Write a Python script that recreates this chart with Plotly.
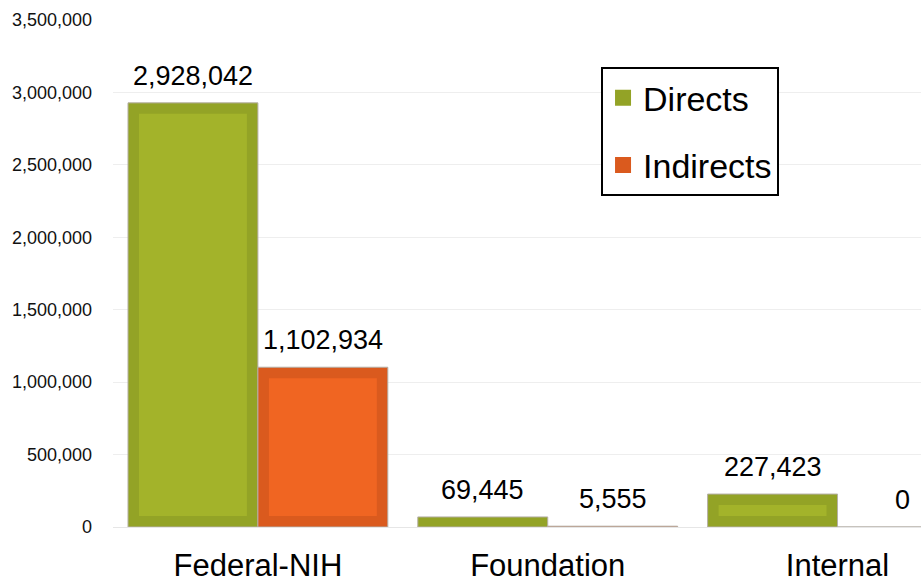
import plotly.graph_objects as go

categories = ["Federal-NIH", "Foundation", "Internal"]
directs = [2928042, 69445, 227423]
indirects = [1102934, 5555, 0]
series_names = ["Directs", "Indirects"]

Y_MAX = 3500000
PLOT_H = 507  # pixels of plot height
BAND_PX = 290
BAR_W = 130 / BAND_PX
INSET_PX = 11
inset_y = INSET_PX * Y_MAX / PLOT_H
inset_x = INSET_PX / BAND_PX

dark = {"Directs": "#93A326", "Indirects": "#DA5A1E"}
light = {"Directs": "#A3B32A", "Indirects": "#F06522"}
offsets = {"Directs": -BAR_W, "Indirects": 0.0}

fig = go.Figure()
for name, vals in zip(series_names, [directs, indirects]):
    fig.add_trace(go.Bar(
        x=categories, y=vals, name=name, showlegend=False,
        width=BAR_W, offset=offsets[name],
        marker=dict(color=dark[name], line=dict(color="#B5AFA6", width=1)),
        hoverinfo="skip",
    ))
    inner_y = [v - 2 * inset_y if v > 2 * inset_y else None for v in vals]
    fig.add_trace(go.Bar(
        x=categories, y=inner_y, base=inset_y, showlegend=False,
        width=BAR_W - 2 * inset_x, offset=offsets[name] + inset_x,
        marker=dict(color=light[name], line=dict(width=0)),
        hoverinfo="skip",
    ))

# legend entries
for i, name in enumerate(series_names):
    fig.add_trace(go.Scatter(
        x=[None], y=[None], mode="markers", name=name,
        legendgroup=name,
        marker=dict(symbol="square", size=16, color=dark[name]),
    ))

annotations = []
for name, vals in zip(series_names, [directs, indirects]):
    shift = -65 if name == "Directs" else 65
    for c, v in zip(categories, vals):
        annotations.append(dict(
            x=c, y=v, xref="x", yref="y", text=f"{v:,}", showarrow=False,
            xshift=shift, yshift=27, yanchor="middle", xanchor="center",
            font=dict(family="Liberation Sans, Arial, sans-serif", size=27, color="#000000"),
        ))

fig.update_layout(
    width=921, height=582,
    margin=dict(l=113, r=0, t=20, b=55, autoexpand=False),
    paper_bgcolor="white", plot_bgcolor="white",
    barmode="overlay",
    font=dict(family="Liberation Sans, Arial, sans-serif", color="#000000"),
    annotations=annotations,
    legend=dict(
        x=0.604, y=0.907, xanchor="left", yanchor="top",
        bgcolor="white", bordercolor="#000000", borderwidth=2,
        font=dict(size=34, color="#000000"),
        tracegroupgap=20,
    ),
    showlegend=True,
)
fig.update_xaxes(
    type="category", categoryorder="array", categoryarray=categories,
    range=[-0.5, 2.288], showgrid=False, showline=False, zeroline=False,
    ticks="", tickfont=dict(size=31, color="#000000"), ticklabelstandoff=17,
    automargin=False,
)
fig.update_yaxes(
    range=[0, Y_MAX], dtick=500000, tickformat=",d",
    showgrid=True, gridcolor="#EEEEEE", gridwidth=1,
    zeroline=True, zerolinecolor="#E6E6E6", zerolinewidth=1,
    showline=False, ticks="",
    tickfont=dict(size=18, color="#111111"), ticklabelstandoff=20,
    automargin=False,
)

fig.write_html(
    "out.html",
    config={"displayModeBar": False},
    post_script="document.body.style.margin='0';document.body.style.overflow='hidden';",
)
